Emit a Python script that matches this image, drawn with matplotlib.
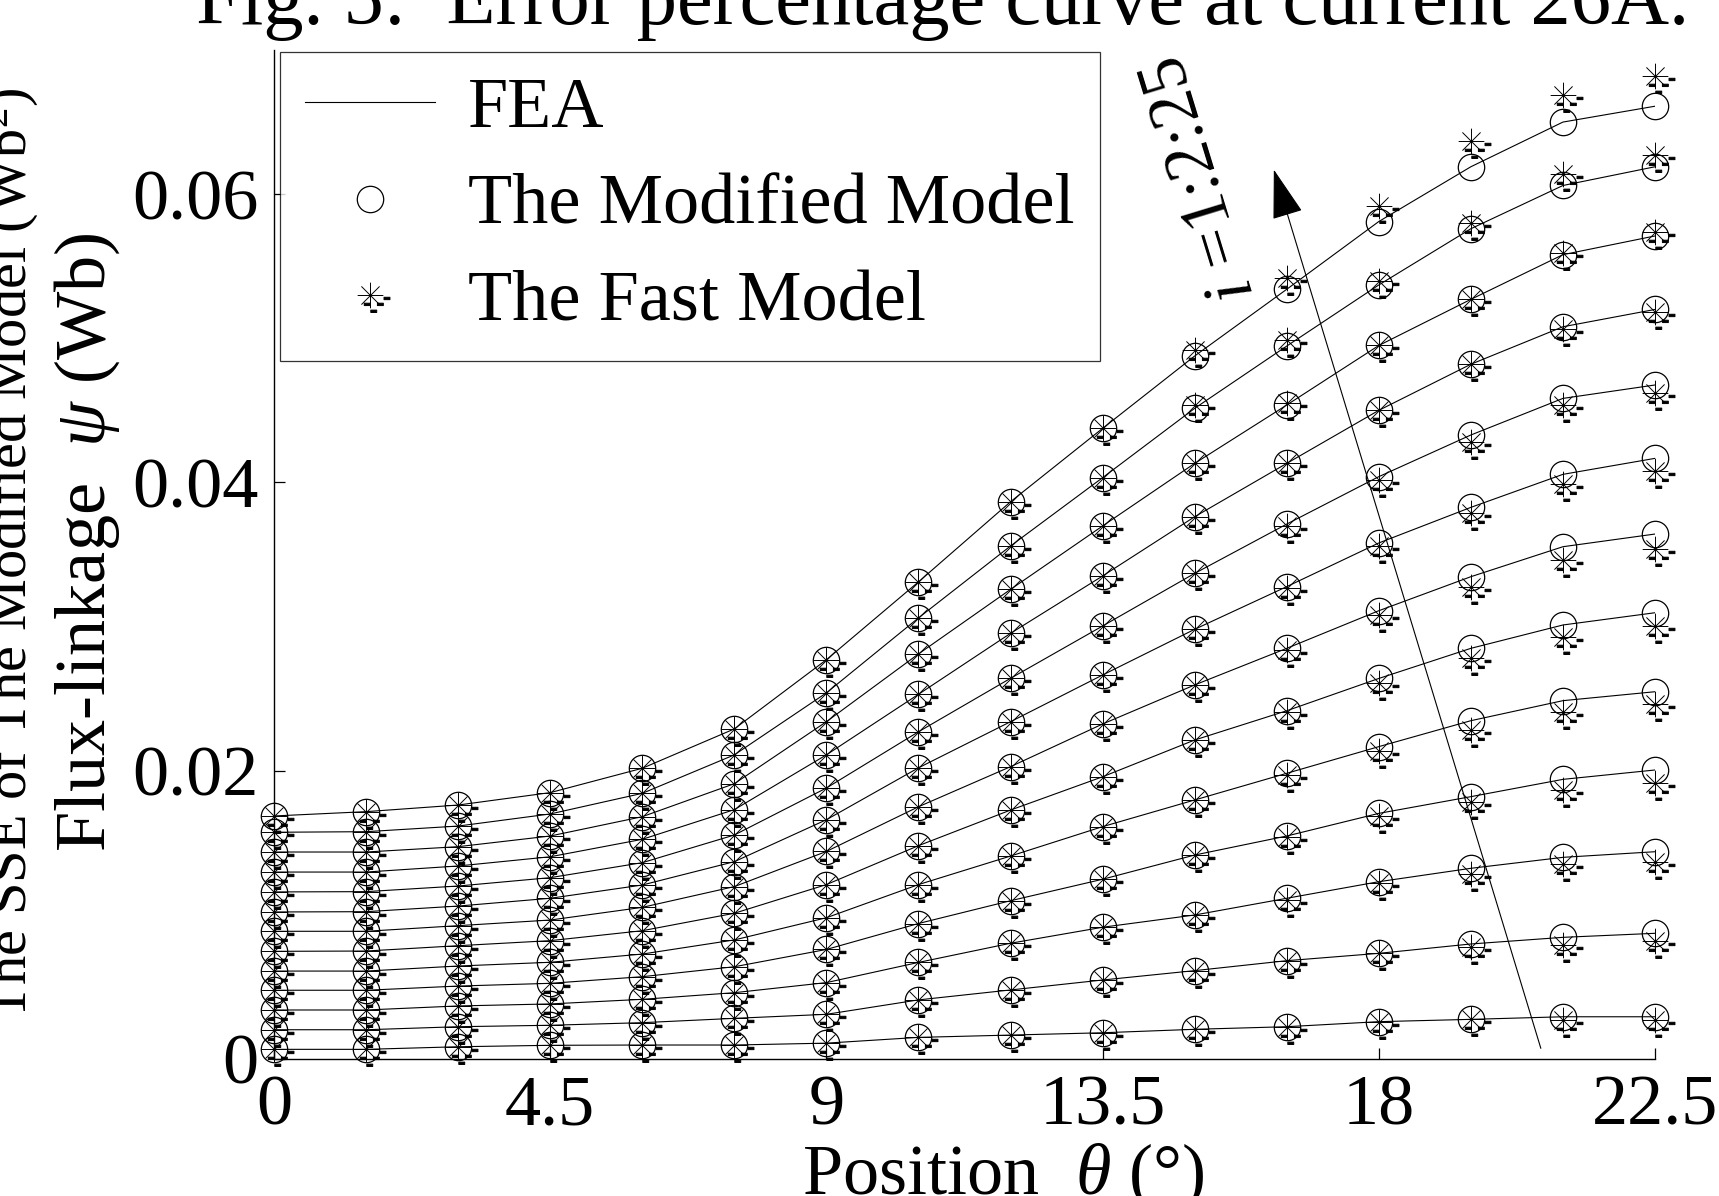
import numpy as np
import matplotlib
matplotlib.use("Agg")
import matplotlib.pyplot as plt
from matplotlib.path import Path
from matplotlib.lines import Line2D
from matplotlib.patches import ArrowStyle

plt.rcParams['font.family'] = ['Liberation Serif', 'DejaVu Serif']
plt.rcParams['mathtext.fontset'] = 'custom'
plt.rcParams['mathtext.rm'] = 'Liberation Serif'
plt.rcParams['mathtext.it'] = 'Liberation Serif:italic'

# rotor position (deg)
theta = [0, 1.5, 3, 4.5, 6, 7.5, 9, 10.5, 12, 13.5, 15, 16.5, 18, 19.5, 21, 22.5]
# phase current i = 1:2:25 (A)
currents = list(range(1, 26, 2))

# FEA flux-linkage (Wb), one row per current, lowest current first
psi_fea = [
    [0.00067, 0.00067, 0.00085, 0.00095, 0.00097, 0.00097, 0.0011, 0.0015, 0.00166, 0.00182, 0.00206, 0.00224, 0.00259, 0.00275, 0.00293, 0.00293],
    [0.00203, 0.00203, 0.00224, 0.00234, 0.00252, 0.00282, 0.0031, 0.0041, 0.00479, 0.00548, 0.00613, 0.00682, 0.00733, 0.00798, 0.00844, 0.00872],
    [0.0034, 0.0034, 0.00368, 0.00382, 0.00414, 0.0046, 0.0053, 0.0067, 0.00803, 0.00914, 0.00999, 0.01115, 0.0123, 0.01323, 0.01399, 0.01438],
    [0.00477, 0.00477, 0.00506, 0.00525, 0.00571, 0.0064, 0.0076, 0.0094, 0.01098, 0.01247, 0.01415, 0.01547, 0.01704, 0.0182, 0.0194, 0.02005],
    [0.0061, 0.0061, 0.00645, 0.00671, 0.00728, 0.00826, 0.0098, 0.0121, 0.01408, 0.01612, 0.01797, 0.01982, 0.02167, 0.02347, 0.02486, 0.02548],
    [0.00747, 0.00749, 0.00786, 0.00821, 0.0089, 0.01011, 0.0121, 0.0148, 0.01727, 0.01958, 0.02213, 0.02416, 0.0264, 0.02849, 0.03011, 0.03096],
    [0.00886, 0.00886, 0.00925, 0.00964, 0.01052, 0.01196, 0.0144, 0.0175, 0.02028, 0.02324, 0.02595, 0.02849, 0.0311, 0.03346, 0.03554, 0.03642],
    [0.0102, 0.01022, 0.01061, 0.01115, 0.01207, 0.01369, 0.0166, 0.0202, 0.0234, 0.02664, 0.02981, 0.03277, 0.0358, 0.03827, 0.04056, 0.04167],
    [0.01159, 0.01161, 0.0120, 0.01258, 0.01362, 0.01554, 0.0188, 0.0227, 0.02641, 0.03004, 0.03369, 0.03711, 0.0404, 0.04329, 0.04583, 0.04676],
    [0.01297, 0.01297, 0.01339, 0.01403, 0.01524, 0.0173, 0.0211, 0.0253, 0.02953, 0.03351, 0.03762, 0.04132, 0.045, 0.0482, 0.0508, 0.052],
    [0.01436, 0.01436, 0.01473, 0.01547, 0.01681, 0.0191, 0.0234, 0.0281, 0.03258, 0.03698, 0.04132, 0.04537, 0.0495, 0.0527, 0.0558, 0.0571],
    [0.01573, 0.01577, 0.01616, 0.0170, 0.01843, 0.0211, 0.0254, 0.0306, 0.03559, 0.04033, 0.04514, 0.04946, 0.0537, 0.0576, 0.0606, 0.0619],
    [0.01686, 0.01716, 0.01762, 0.01848, 0.02017, 0.0229, 0.0277, 0.0331, 0.03866, 0.04375, 0.04877, 0.0534, 0.0581, 0.0619, 0.065, 0.0661],
]

# modified model lies on the FEA curves
psi_modified = [row[:] for row in psi_fea]

# fast model error vs FEA for theta = 15 ... 22.5 deg (zero below 15 deg)
fast_err = [
    [0, 0, 0, 0, -0.0002, -0.0002],
    [0, 0, 0, -0.0002, -0.0005, -0.0005],
    [0, -0.0001, -0.0001, -0.0004, -0.00046, -0.00074],
    [0, -0.0001, -0.0002, -0.00035, -0.00074, -0.00093],
    [0, -0.0001, -0.0003, -0.00065, -0.0008, -0.00086],
    [0, -0.0001, -0.0003, -0.0007, -0.0008, -0.0009],
    [0, -0.0001, -0.0003, -0.0007, -0.00093, -0.00106],
    [0, -0.0001, -0.0002, -0.0004, -0.0007, -0.00086],
    [0, -0.0001, -0.0002, -0.00046, -0.00046, -0.00058],
    [0, 0, 0, 0, -0.00015, -0.0002],
    [0, 0.00016, 0, 0, 0.0001, 0.0003],
    [0.0002, 0.0004, 0.0003, 0.0004, 0.0008, 0.0008],
    [0.0004, 0.00076, 0.0011, 0.0018, 0.0019, 0.0021],
]
psi_fast = np.array(psi_fea)
psi_fast[:, -6:] += np.array(fast_err)

x_ticks = [0, 4.5, 9, 13.5, 18, 22.5]
x_ticklabels = ['0', '4.5', '9', '13.5', '18', '22.5']
y_ticks = [0, 0.02, 0.04, 0.06]
y_ticklabels = ['0', '0.02', '0.04', '0.06']

arrow_tail = (20.64, 0.00074)
arrow_head = (16.29, 0.0617)


def star_marker():
    # eight-arm asterisk plus the small dashes of the exported marker
    r, d = 13.0, 9.2
    verts, codes = [], []
    for (x0, y0, x1, y1) in [(-r, 0, r, 0), (0, -r, 0, r), (-d, -d, d, d), (-d, d, d, -d)]:
        verts += [(x0, y0), (x1, y1)]
        codes += [Path.MOVETO, Path.LINETO]
    w, h = 3.0, 1.2
    for (cx, cy) in [(16.7, -3), (-3.3, -9), (10, -9), (3.3, -16)]:
        verts += [(cx - w, cy - h), (cx + w, cy - h), (cx + w, cy + h), (cx - w, cy + h), (0, 0)]
        codes += [Path.MOVETO, Path.LINETO, Path.LINETO, Path.LINETO, Path.CLOSEPOLY]
    return Path(verts, codes)


star = star_marker()
circle_style = dict(ls='none', marker='o', ms=19, mfc='none', mec='k', mew=0.9, clip_on=False)
star_style = dict(ls='none', marker=star, ms=28, mfc='k', mec='k', mew=0.7, clip_on=False)

W, H = 1719, 1196
fig = plt.figure(figsize=(W / 100, H / 100), dpi=100)
ax = fig.add_axes([274 / W, 1 - 1059 / H, (1655 - 274) / W, (1059 - 50) / H])

for k in range(len(currents)):
    ax.plot(theta, psi_fea[k], color='k', lw=0.8)
    ax.plot(theta, psi_modified[k], **circle_style)
    ax.plot(theta, psi_fast[k], **star_style)

ax.set_xlim(0, 22.5)
ax.set_ylim(0, 0.07)
ax.set_xticks(x_ticks)
ax.set_xticklabels(x_ticklabels)
ax.set_yticks(y_ticks)
ax.set_yticklabels(y_ticklabels)
ax.tick_params(direction='in', length=8, width=0.9, labelsize=52)
ax.tick_params(axis='x', pad=11)
ax.tick_params(axis='y', pad=11)
for side in ['top', 'right']:
    ax.spines[side].set_visible(False)
for side in ['left', 'bottom']:
    ax.spines[side].set_linewidth(1.0)

# direction of increasing current
ax.annotate('', xy=arrow_head, xytext=arrow_tail,
            arrowprops=dict(arrowstyle=ArrowStyle('-|>', head_length=1.6, head_width=0.5),
                            mutation_scale=20, lw=0.8, color='k', shrinkA=0, shrinkB=0))
ax.text(15.09, 0.0611, r'$i$ =1:2:25', rotation=107, rotation_mode='anchor',
        ha='center', va='center', fontsize=50)

handles = [
    Line2D([], [], color='k', lw=0.8),
    Line2D([], [], **circle_style),
    Line2D([], [], **star_style),
]
leg = ax.legend(handles, ['FEA', 'The Modified Model', 'The Fast Model'],
                loc='upper left', bbox_to_anchor=(280 / W, 1 - 51.5 / H),
                bbox_transform=fig.transFigure, fontsize=52, frameon=True,
                fancybox=False, borderpad=0.35, labelspacing=0.43,
                handlelength=1.8, handletextpad=0.45, borderaxespad=0)
leg.get_frame().set_edgecolor('k')
leg.get_frame().set_linewidth(0.9)

fig.text(943 / W, 1 - 24 / H, 'Fig. 5:  Error percentage curve at current 26A.',
         ha='center', va='baseline', fontsize=58)
fig.text(27 / W, 1 - 554 / H, 'The SSE of The Modified Model (Wb$^2$)',
         rotation=90, rotation_mode='anchor', ha='center', va='baseline', fontsize=42)
fig.text(105 / W, 1 - 542 / H, r'Flux-linkage  $\psi$ (Wb)',
         rotation=90, rotation_mode='anchor', ha='center', va='baseline', fontsize=52)
fig.text(1003 / W, 2 / H, r'Position  $\theta$ (°)',
         ha='center', va='baseline', fontsize=52)

fig.savefig('out.png', dpi=100)
